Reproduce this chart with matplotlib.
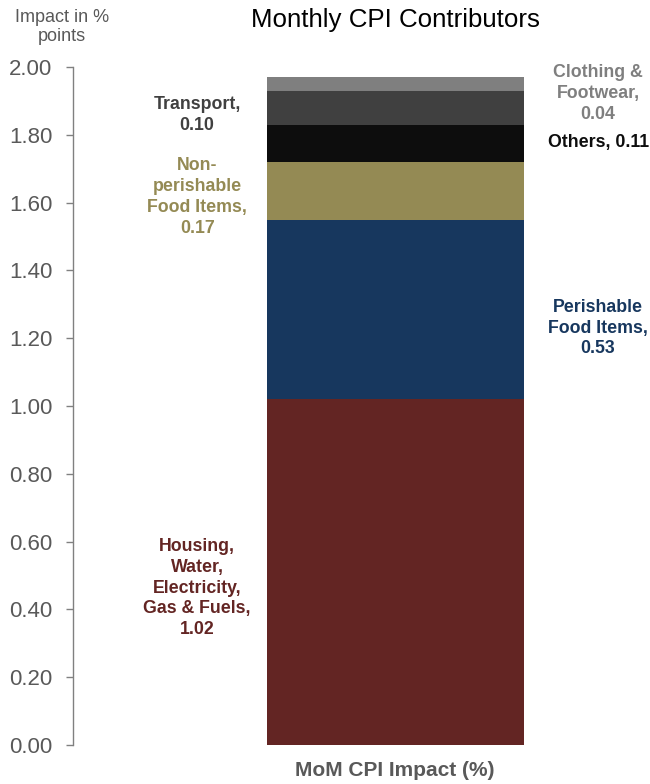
import matplotlib
matplotlib.use("Agg")
import matplotlib.pyplot as plt

plt.rcParams['font.family'] = ['Liberation Sans', 'DejaVu Sans']

categories = ["Housing,\nWater,\nElectricity,\nGas & Fuels,", "Perishable\nFood Items,",
              "Non-\nperishable\nFood Items,", "Others,", "Transport,", "Clothing &\nFootwear,"]
values = [1.02, 0.53, 0.17, 0.11, 0.10, 0.04]
colors = ["#632523", "#17375E", "#948A54", "#0D0D0D", "#404040", "#7F7F7F"]
label_colors = ["#632523", "#17375E", "#948A54", "#0D0D0D", "#404040", "#7F7F7F"]
# label placement: side (-1 left, +1 right), y center
label_side = [-1, 1, -1, 1, -1, 1]
label_y = [0.463, 1.230, 1.617, 1.776, 1.858, 1.923]
yticks = [0.0, 0.2, 0.4, 0.6, 0.8, 1.0, 1.2, 1.4, 1.6, 1.8, 2.0]

fig = plt.figure(figsize=(6.5, 7.84), dpi=100)
ax = fig.add_axes([73/650, 39/784, 577/650, 678/784])

bottom = 0.0
for v, c in zip(values, colors):
    ax.bar(0, v, width=1.0, bottom=bottom, color=c, linewidth=0)
    bottom += v

for cat, v, lc, side, ly in zip(categories, values, label_colors, label_side, label_y):
    x = -0.772 if side < 0 else 0.788
    txt = f"{cat} {v:.2f}" if cat == "Others," else f"{cat}\n{v:.2f}"
    ax.text(x, ly, txt, ha="center", va="center", color=lc, fontsize=12.8,
            fontweight="bold", linespacing=1.3)

ax.set_xlim(-1.255, 0.990)
ax.set_ylim(0, 2.0)
ax.set_yticks(yticks)
ax.set_yticklabels([f"{t:.2f}" for t in yticks])
ax.tick_params(axis="y", colors="#808080", labelcolor="#595959", labelsize=16,
               length=5, width=1, direction="out", pad=10)
ax.set_xticks([])
for s in ["top", "right", "bottom"]:
    ax.spines[s].set_visible(False)
ax.spines["left"].set_color("#808080")
ax.spines["left"].set_linewidth(1)

fig.text(395/650, 1 - 20/784, "Monthly CPI Contributors", ha="center", va="center",
         fontsize=18.6, color="#000000")
fig.text(62/650, 1 - 27/784, "Impact in %\npoints", ha="center", va="center",
         fontsize=13, color="#595959", linespacing=1.15)
fig.text(395/650, 1 - 770/784, "MoM CPI Impact (%)", ha="center", va="center",
         fontsize=15, fontweight="bold", color="#595959")

fig.savefig("out.png", dpi=100)
